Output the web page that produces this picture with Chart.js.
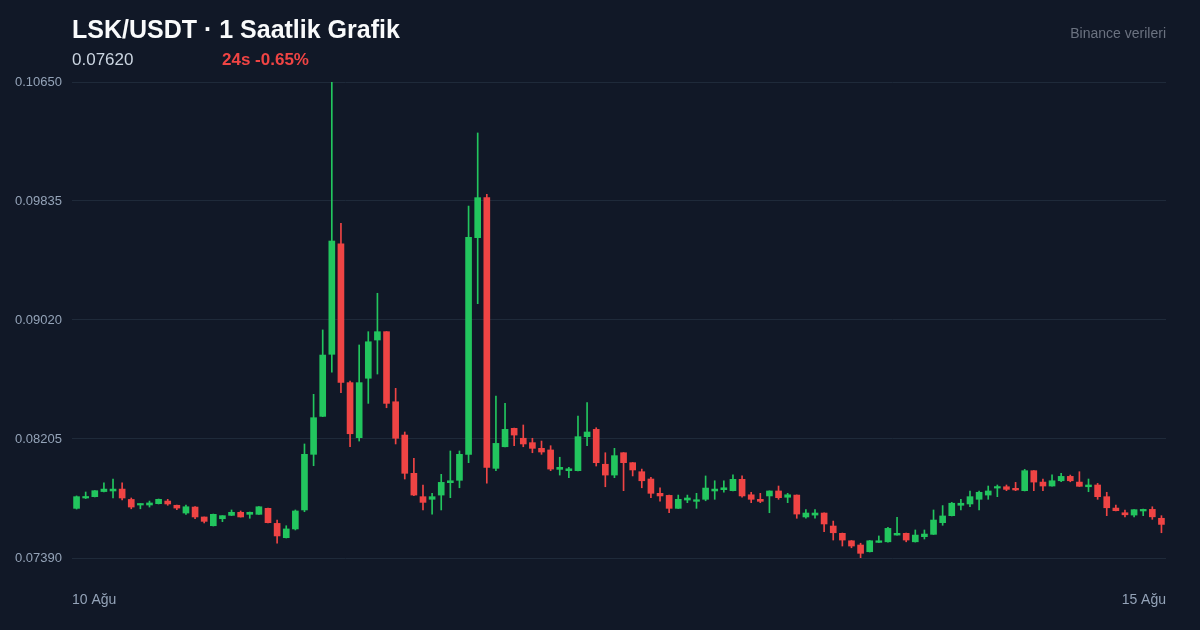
<!DOCTYPE html>
<html lang="tr">
<head>
<meta charset="utf-8">
<title>LSK/USDT · 1 Saatlik Grafik</title>
<script src="https://cdn.jsdelivr.net/npm/chart.js"></script>
<style>
    html, body {
        margin: 0;
        padding: 0;
        background: #111827;
    }
    .wrap {
        position: relative;
        width: 1200px;
        height: 630px;
        background: #111827;
        font-family: "Liberation Sans", Arial, sans-serif;
        overflow: hidden;
    }
    .wrap canvas {
        position: absolute;
        left: 0;
        top: 0;
    }
    .title {
        position: absolute;
        left: 72px;
        top: 15px;
        font-size: 25px;
        font-weight: bold;
        color: #f9fafb;
        white-space: nowrap;
    }
    .price {
        position: absolute;
        left: 72px;
        top: 50px;
        font-size: 17px;
        color: #cbd5e1;
    }
    .change {
        position: absolute;
        left: 222px;
        top: 50px;
        font-size: 17px;
        font-weight: bold;
        color: #ef4444;
    }
    .source {
        position: absolute;
        right: 34px;
        top: 25px;
        font-size: 14px;
        color: #6b7280;
    }
</style>
</head>
<body>
<div class="wrap">
    <canvas id="candles" width="1200" height="630"></canvas>
    <div class="title">LSK/USDT · 1 Saatlik Grafik</div>
    <div class="price">0.07620</div>
    <div class="change">24s -0.65%</div>
    <div class="source">Binance verileri</div>
</div>
<script>
// Hourly candles, 10 Ağu -> 15 Ağu
const opens = [
    0.07730, 0.07801, 0.07810, 0.07845, 0.07849, 0.07862, 0.07791, 0.07753, 0.07753, 0.07762,
    0.07780, 0.07751, 0.07698, 0.07739, 0.07671, 0.07611, 0.07659, 0.07682, 0.07703, 0.07689,
    0.07689, 0.07730, 0.07627, 0.07529, 0.07589, 0.07719, 0.08100, 0.08360, 0.08785, 0.09541,
    0.08591, 0.08214, 0.08621, 0.08883, 0.08940, 0.08460, 0.08232, 0.07970, 0.07810, 0.07792,
    0.07821, 0.07906, 0.07922, 0.08100, 0.09584, 0.09858, 0.08004, 0.08152, 0.08278, 0.08210,
    0.08180, 0.08141, 0.08130, 0.07997, 0.07988, 0.07988, 0.08221, 0.08271, 0.08032, 0.07958,
    0.08111, 0.08043, 0.07981, 0.07931, 0.07833, 0.07819, 0.07730, 0.07787, 0.07778, 0.07792,
    0.07849, 0.07858, 0.07851, 0.07929, 0.07823, 0.07792, 0.07815, 0.07849, 0.07806, 0.07821,
    0.07671, 0.07684, 0.07698, 0.07609, 0.07559, 0.07508, 0.07479, 0.07433, 0.07497, 0.07501,
    0.07547, 0.07559, 0.07501, 0.07536, 0.07552, 0.07632, 0.07680, 0.07751, 0.07760, 0.07792,
    0.07821, 0.07869, 0.07878, 0.07867, 0.07851, 0.07988, 0.07910, 0.07883, 0.07919, 0.07949,
    0.07910, 0.07878, 0.07890, 0.07810, 0.07732, 0.07700, 0.07684, 0.07712, 0.07723, 0.07662
];
const highs = [
    0.07815, 0.07842, 0.07852, 0.07904, 0.07931, 0.07904, 0.07801, 0.07762, 0.07780, 0.07794,
    0.07792, 0.07753, 0.07753, 0.07743, 0.07671, 0.07691, 0.07680, 0.07719, 0.07712, 0.07705,
    0.07743, 0.07732, 0.07650, 0.07611, 0.07719, 0.08171, 0.08511, 0.08952, 0.10650, 0.09682,
    0.08602, 0.08849, 0.08940, 0.09203, 0.08941, 0.08552, 0.08253, 0.08073, 0.07890, 0.07833,
    0.07963, 0.08123, 0.08123, 0.09801, 0.10301, 0.09881, 0.08499, 0.08449, 0.08280, 0.08301,
    0.08210, 0.08191, 0.08159, 0.08080, 0.08011, 0.08362, 0.08454, 0.08282, 0.08111, 0.08141,
    0.08112, 0.08044, 0.07999, 0.07943, 0.07871, 0.07821, 0.07821, 0.07821, 0.07833, 0.07952,
    0.07919, 0.07919, 0.07960, 0.07952, 0.07840, 0.07833, 0.07850, 0.07883, 0.07833, 0.07822,
    0.07721, 0.07721, 0.07699, 0.07643, 0.07561, 0.07510, 0.07491, 0.07510, 0.07541, 0.07600,
    0.07669, 0.07561, 0.07582, 0.07582, 0.07719, 0.07749, 0.07771, 0.07792, 0.07849, 0.07849,
    0.07883, 0.07890, 0.07890, 0.07908, 0.07997, 0.07989, 0.07931, 0.07960, 0.07970, 0.07958,
    0.07981, 0.07931, 0.07901, 0.07840, 0.07753, 0.07719, 0.07722, 0.07725, 0.07741, 0.07680
];
const lows = [
    0.07725, 0.07797, 0.07808, 0.07842, 0.07801, 0.07787, 0.07727, 0.07727, 0.07739, 0.07760,
    0.07751, 0.07721, 0.07689, 0.07659, 0.07630, 0.07609, 0.07639, 0.07680, 0.07670, 0.07662,
    0.07688, 0.07630, 0.07491, 0.07527, 0.07582, 0.07707, 0.08022, 0.08358, 0.08662, 0.08522,
    0.08152, 0.08191, 0.08449, 0.08650, 0.08419, 0.08171, 0.07931, 0.07817, 0.07719, 0.07691,
    0.07719, 0.07803, 0.07871, 0.08043, 0.09132, 0.07902, 0.07988, 0.08150, 0.08159, 0.08152,
    0.08111, 0.08100, 0.07988, 0.07958, 0.07940, 0.07986, 0.08159, 0.08020, 0.07878, 0.07940,
    0.07851, 0.07952, 0.07871, 0.07803, 0.07780, 0.07700, 0.07729, 0.07769, 0.07730, 0.07782,
    0.07792, 0.07840, 0.07849, 0.07806, 0.07769, 0.07769, 0.07700, 0.07792, 0.07769, 0.07662,
    0.07662, 0.07662, 0.07570, 0.07513, 0.07472, 0.07460, 0.07390, 0.07431, 0.07496, 0.07499,
    0.07546, 0.07501, 0.07499, 0.07520, 0.07551, 0.07614, 0.07678, 0.07719, 0.07741, 0.07719,
    0.07792, 0.07810, 0.07851, 0.07851, 0.07849, 0.07851, 0.07851, 0.07882, 0.07912, 0.07912,
    0.07880, 0.07844, 0.07792, 0.07680, 0.07712, 0.07672, 0.07672, 0.07680, 0.07655, 0.07563
];
const closes = [
    0.07810, 0.07808, 0.07851, 0.07862, 0.07862, 0.07801, 0.07739, 0.07760, 0.07767, 0.07792,
    0.07760, 0.07732, 0.07741, 0.07671, 0.07641, 0.07689, 0.07680, 0.07703, 0.07671, 0.07703,
    0.07741, 0.07632, 0.07541, 0.07589, 0.07712, 0.08100, 0.08351, 0.08780, 0.09561, 0.08593,
    0.08241, 0.08591, 0.08871, 0.08940, 0.08449, 0.08210, 0.07970, 0.07821, 0.07771, 0.07810,
    0.07908, 0.07919, 0.08100, 0.09586, 0.09858, 0.08011, 0.08175, 0.08271, 0.08232, 0.08171,
    0.08141, 0.08116, 0.07999, 0.08011, 0.08001, 0.08221, 0.08253, 0.08043, 0.07958, 0.08091,
    0.08043, 0.07993, 0.07919, 0.07833, 0.07815, 0.07730, 0.07792, 0.07801, 0.07789, 0.07869,
    0.07862, 0.07871, 0.07929, 0.07815, 0.07792, 0.07778, 0.07849, 0.07803, 0.07823, 0.07691,
    0.07698, 0.07698, 0.07623, 0.07563, 0.07513, 0.07472, 0.07422, 0.07508, 0.07508, 0.07593,
    0.07559, 0.07513, 0.07547, 0.07554, 0.07650, 0.07678, 0.07765, 0.07765, 0.07810, 0.07840,
    0.07849, 0.07878, 0.07860, 0.07856, 0.07988, 0.07910, 0.07883, 0.07919, 0.07949, 0.07919,
    0.07881, 0.07890, 0.07810, 0.07734, 0.07714, 0.07686, 0.07721, 0.07723, 0.07672, 0.07620
];

// Axis labels
const yTicks = [0.07390, 0.08205, 0.09020, 0.09835, 0.10650];
const dateLabels = ['10 Ağu', '15 Ağu'];

const UP = '#22c55e';
const DOWN = '#ef4444';

// one category per hourly candle
const hours = opens.map((_, i) => 'h' + i);
const candleColors = opens.map((o, i) => (closes[i] >= o ? UP : DOWN));

const chart = new Chart(document.getElementById('candles'), {
    type: 'bar',
    data: {
        labels: hours,
        datasets: [
            {
                // wicks: low -> high
                label: 'wick',
                data: lows.map((l, i) => [l, highs[i]]),
                backgroundColor: candleColors,
                barThickness: 1,
                minBarLength: 1,
                order: 2
            },
            {
                // bodies: open -> close
                label: 'body',
                data: opens.map((o, i) => [o, closes[i]]),
                backgroundColor: candleColors,
                barThickness: 6,
                minBarLength: 1.5,
                order: 1
            }
        ]
    },
    options: {
        responsive: false,
        animation: false,
        devicePixelRatio: 1,
        grouped: false,
        layout: {
            padding: { top: 82, right: 34, bottom: 0, left: 0 }
        },
        plugins: {
            legend: { display: false },
            tooltip: { enabled: false },
            title: { display: false }
        },
        scales: {
            x: {
                type: 'category',
                display: false,
                offset: true,
                grid: { display: false }
            },
            dates: {
                type: 'linear',
                position: 'bottom',
                min: 0,
                max: 1,
                offset: false,
                grid: { display: false },
                border: { display: false },
                afterBuildTicks: (scale) => {
                    scale.ticks = [{ value: 0 }, { value: 1 }];
                },
                afterFit: (scale) => {
                    scale.height = 72;
                },
                ticks: {
                    align: 'inner',
                    maxRotation: 0,
                    padding: 26,
                    color: '#94a3b8',
                    font: { family: '"Liberation Sans", Arial, sans-serif', size: 14 },
                    callback: (value, index) => dateLabels[index]
                }
            },
            y: {
                min: yTicks[0],
                max: yTicks[yTicks.length - 1],
                afterBuildTicks: (scale) => {
                    scale.ticks = yTicks.map(v => ({ value: v }));
                },
                afterFit: (scale) => {
                    scale.width = 72;
                },
                grid: {
                    color: '#1f2a3a',
                    lineWidth: 1,
                    drawTicks: false
                },
                border: { display: false },
                ticks: {
                    padding: 10,
                    color: '#94a3b8',
                    font: { family: '"Liberation Sans", Arial, sans-serif', size: 13 },
                    callback: (value) => Number(value).toFixed(5)
                }
            }
        }
    }
});
</script>
</body>
</html>
